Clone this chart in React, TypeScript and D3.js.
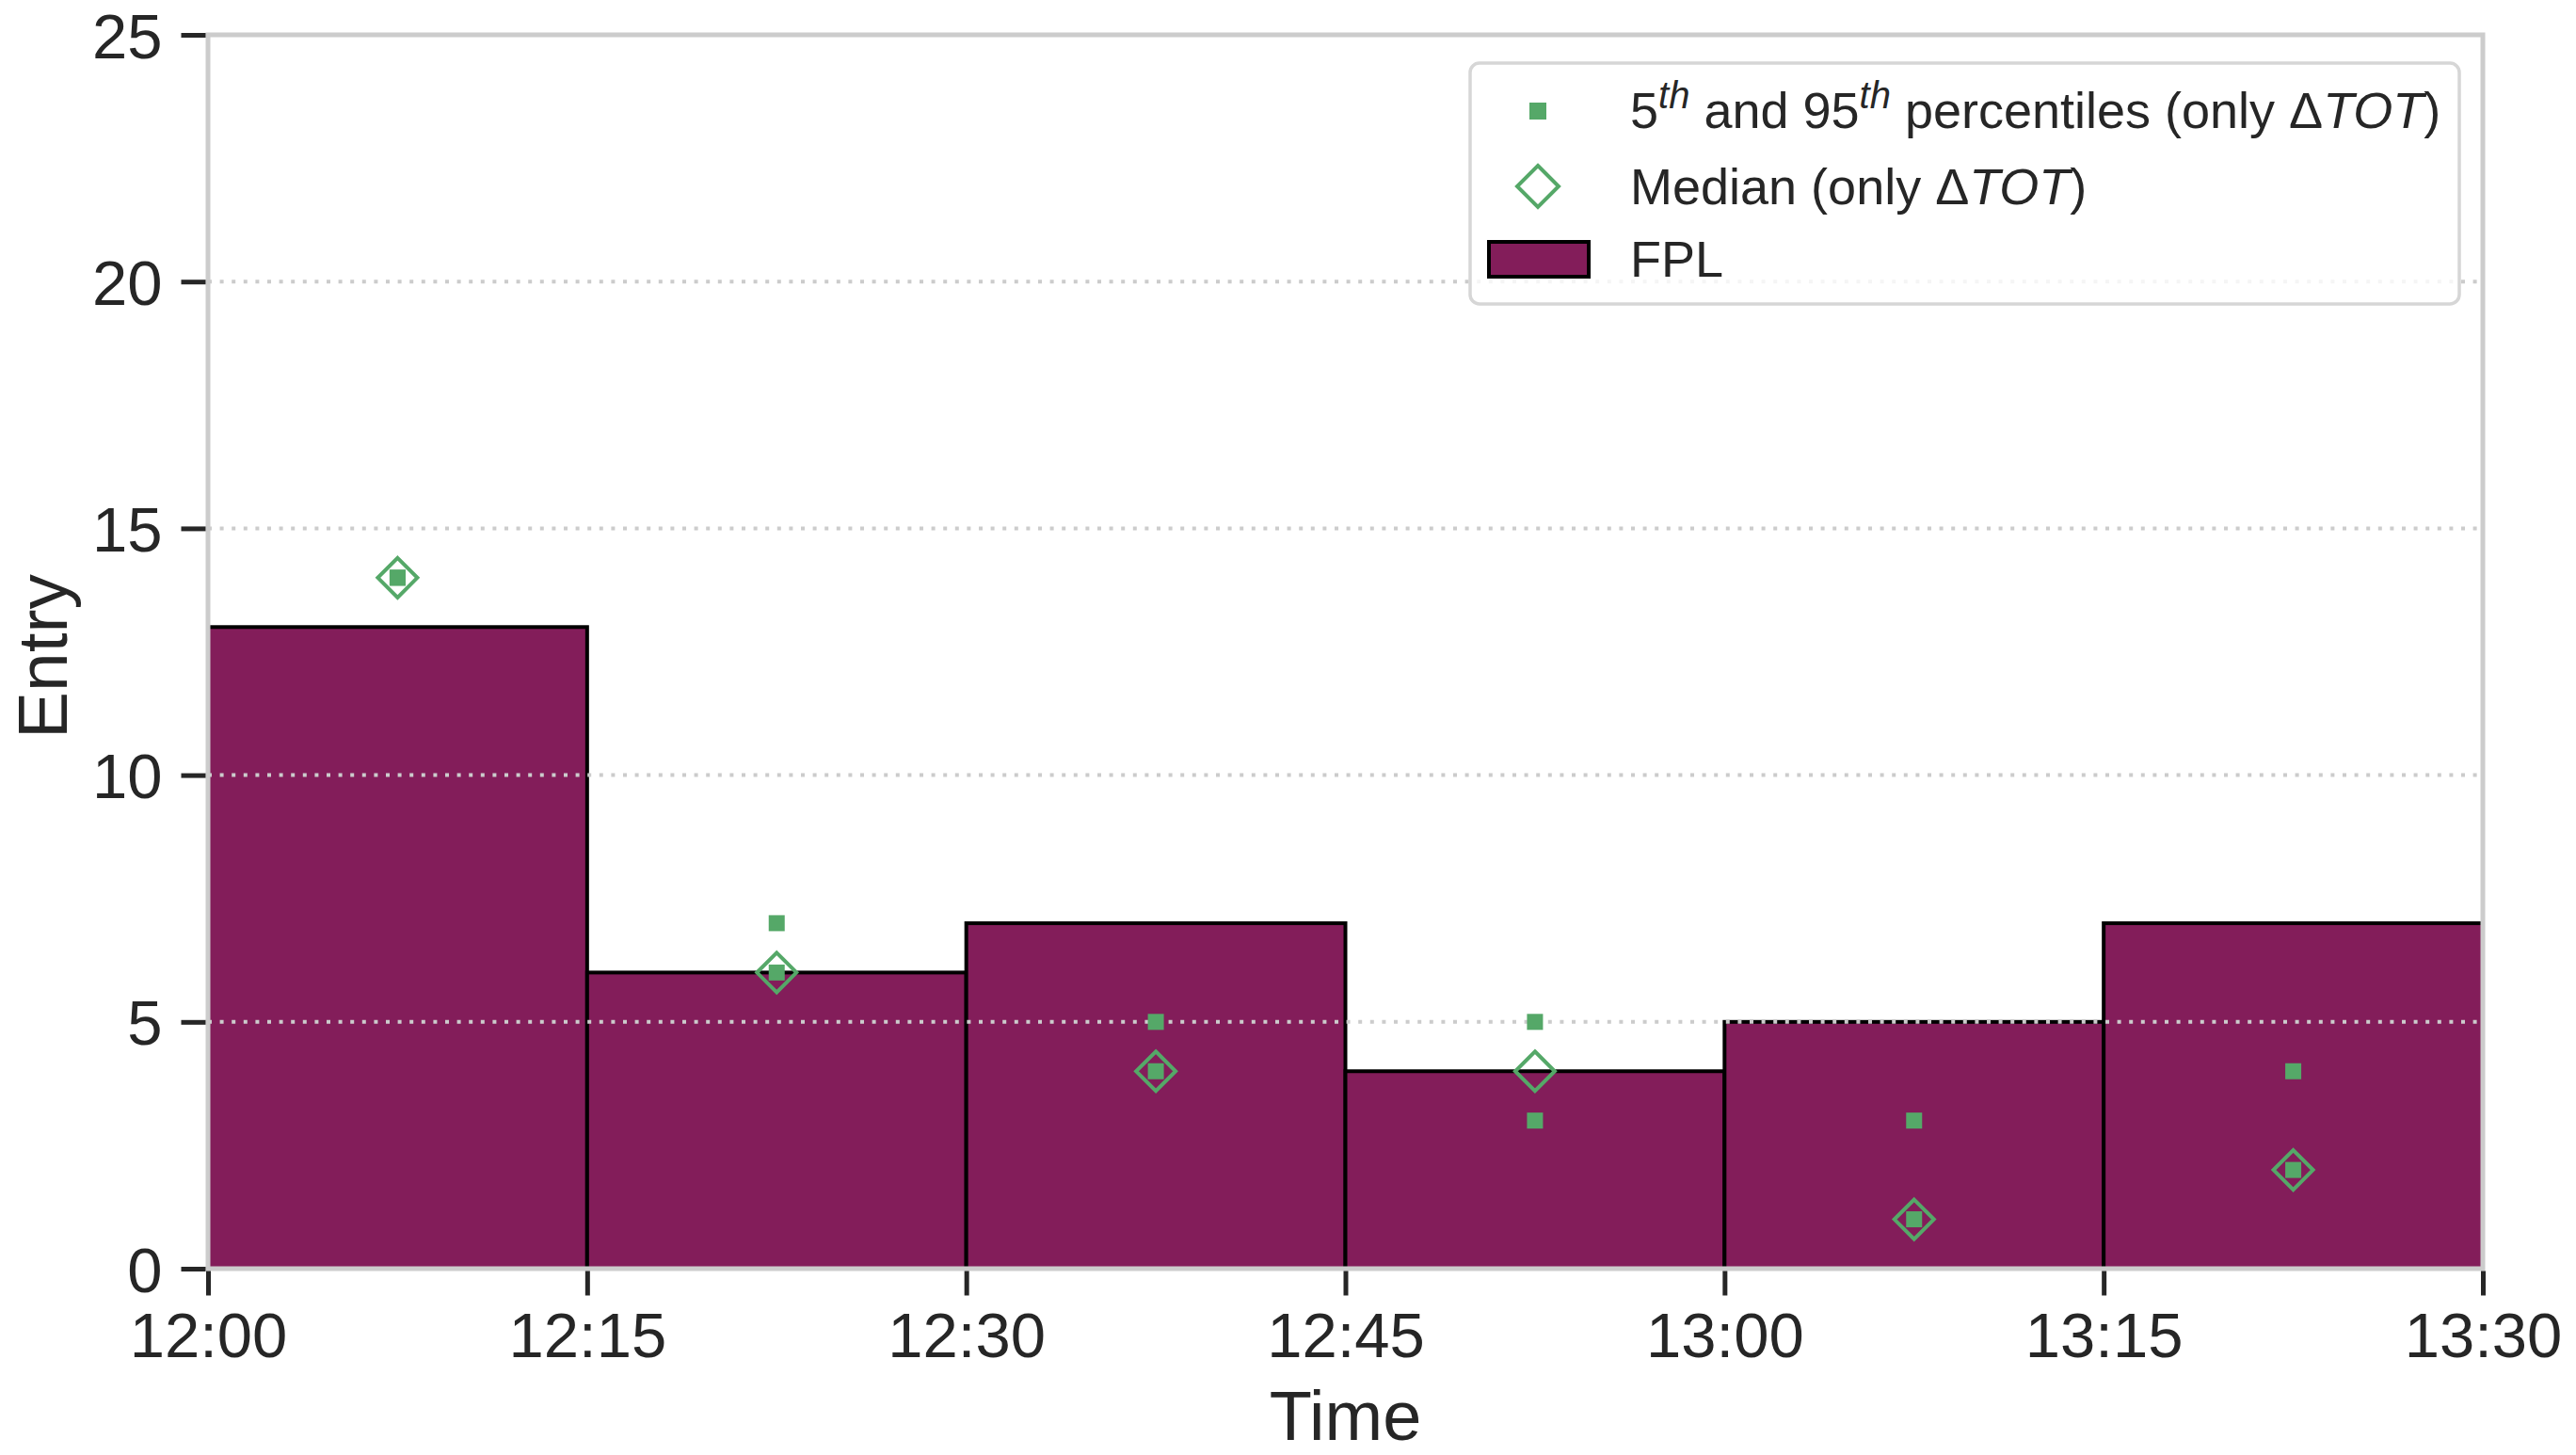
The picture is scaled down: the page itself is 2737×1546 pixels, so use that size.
import React, { useEffect, useRef } from 'react';
import * as d3 from 'd3';

// 15-minute bins starting at these times
const binStarts = ['12:00', '12:15', '12:30', '12:45', '13:00', '13:15'];
const axisEnd = '13:30';
const fplCounts = [13, 6, 7, 4, 5, 7];
const p5Values = [14, 6, 4, 3, 1, 2];
const p95Values = [14, 7, 5, 5, 3, 4];
const medianValues = [14, 6, 4, 4, 1, 2];
const yTicks = [0, 5, 10, 15, 20, 25];

const W = 2737;
const H = 1546;
const FONT = '"Liberation Sans", Arial, "DejaVu Sans", sans-serif';
const TEXT = '#262626';
const BAR = '#831d5a';
const GREEN = '#55a868';
const SPINE = '#cccccc';

const parseT = (s: string) => {
  const [h, m] = s.split(':').map(Number);
  return new Date(2020, 0, 1, h, m);
};

const App: React.FC = () => {
  const svgRef = useRef<SVGSVGElement | null>(null);

  useEffect(() => {
    if (!svgRef.current) return;
    const svg = d3.select(svgRef.current);
    svg.selectAll('*').remove();

    const left = 221, right = 2638, top = 37, bottom = 1348;

    const x = d3.scaleTime()
      .domain([parseT(binStarts[0]), parseT(axisEnd)])
      .range([left, right]);
    const y = d3.scaleLinear().domain([0, 25]).range([bottom, top]);

    const bins = binStarts.map((s, i) => {
      const start = parseT(s);
      const end = new Date(start.getTime() + 15 * 60000);
      const mid = new Date(start.getTime() + 7.5 * 60000);
      return { start, end, mid, fpl: fplCounts[i], p5: p5Values[i], p95: p95Values[i], med: medianValues[i] };
    });

    // bars
    svg.append('g')
      .selectAll('rect')
      .data(bins)
      .enter()
      .append('rect')
      .attr('x', d => x(d.start))
      .attr('y', d => y(d.fpl))
      .attr('width', d => x(d.end) - x(d.start))
      .attr('height', d => y(0) - y(d.fpl))
      .attr('fill', BAR)
      .attr('stroke', '#000')
      .attr('stroke-width', 4);

    // horizontal grid (drawn over bars)
    svg.append('g')
      .selectAll('line')
      .data(yTicks.filter(t => t > 0 && t < 25))
      .enter()
      .append('line')
      .attr('x1', left)
      .attr('x2', right)
      .attr('y1', d => y(d))
      .attr('y2', d => y(d))
      .attr('stroke', SPINE)
      .attr('stroke-width', 4)
      .attr('stroke-dasharray', '4,8.6');

    // percentile squares
    const sq = 17;
    const pts = bins.flatMap(b => [{ t: b.mid, v: b.p5 }, { t: b.mid, v: b.p95 }]);
    svg.append('g')
      .selectAll('rect')
      .data(pts)
      .enter()
      .append('rect')
      .attr('x', d => x(d.t) - sq / 2)
      .attr('y', d => y(d.v) - sq / 2)
      .attr('width', sq)
      .attr('height', sq)
      .attr('fill', GREEN);

    // median diamonds
    const dr = 21;
    const diamond = (cx: number, cy: number, r: number) =>
      `M${cx},${cy - r}L${cx + r},${cy}L${cx},${cy + r}L${cx - r},${cy}Z`;
    svg.append('g')
      .selectAll('path')
      .data(bins)
      .enter()
      .append('path')
      .attr('d', d => diamond(x(d.mid), y(d.med), dr))
      .attr('fill', 'none')
      .attr('stroke', GREEN)
      .attr('stroke-width', 4);

    // spines
    svg.append('rect')
      .attr('x', left)
      .attr('y', top)
      .attr('width', right - left)
      .attr('height', bottom - top)
      .attr('fill', 'none')
      .attr('stroke', SPINE)
      .attr('stroke-width', 5);

    // y axis
    const yAxis = svg.append('g')
      .attr('transform', `translate(${left - 2.5},0)`)
      .call(d3.axisLeft(y).tickValues(yTicks).tickSize(26).tickPadding(20).tickSizeOuter(0));
    yAxis.select('.domain').remove();
    yAxis.selectAll('line').attr('stroke', TEXT).attr('stroke-width', 5);
    yAxis.selectAll('text')
      .attr('fill', TEXT)
      .attr('dy', '0.36em')
      .style('font-family', FONT)
      .style('font-size', '67px');

    // x axis
    const xAxis = svg.append('g')
      .attr('transform', `translate(0,${bottom + 2.5})`)
      .call(d3.axisBottom(x)
        .ticks(d3.timeMinute.every(15))
        .tickFormat(d3.timeFormat('%H:%M') as any)
        .tickSize(26)
        .tickPadding(18)
        .tickSizeOuter(0));
    xAxis.select('.domain').remove();
    xAxis.selectAll('line').attr('stroke', TEXT).attr('stroke-width', 5);
    xAxis.selectAll('text')
      .attr('fill', TEXT)
      .style('font-family', FONT)
      .style('font-size', '67px');

    // axis titles
    svg.append('text')
      .attr('x', (left + right) / 2)
      .attr('y', 1530)
      .attr('text-anchor', 'middle')
      .attr('fill', TEXT)
      .style('font-family', FONT)
      .style('font-size', '74px')
      .text('Time');
    svg.append('text')
      .attr('transform', `translate(71,${(top + bottom) / 2 + 5}) rotate(-90)`)
      .attr('text-anchor', 'middle')
      .attr('fill', TEXT)
      .style('font-family', FONT)
      .style('font-size', '75px')
      .text('Entry');

    // legend
    const lg = svg.append('g');
    lg.append('rect')
      .attr('x', 1562)
      .attr('y', 67)
      .attr('width', 2613 - 1562)
      .attr('height', 323 - 67)
      .attr('rx', 10)
      .attr('fill', '#fff')
      .attr('fill-opacity', 0.8)
      .attr('stroke', '#d6d6d6')
      .attr('stroke-width', 3.5);

    const mx = 1634;
    const tx = 1732;
    const fs = 54;
    lg.append('rect')
      .attr('x', mx - 9).attr('y', 118 - 9).attr('width', 18).attr('height', 18)
      .attr('fill', GREEN);
    lg.append('path')
      .attr('d', diamond(mx, 198, 22))
      .attr('fill', 'none').attr('stroke', GREEN).attr('stroke-width', 4);
    lg.append('rect')
      .attr('x', 1582).attr('y', 257).attr('width', 106).attr('height', 37)
      .attr('fill', BAR).attr('stroke', '#000').attr('stroke-width', 4);

    const t1 = lg.append('text')
      .attr('x', tx).attr('y', 136)
      .attr('fill', TEXT)
      .style('font-family', FONT)
      .style('font-size', `${fs}px`);
    const sup = (sel: any, txt: string) => {
      sel.append('tspan').attr('dy', -21).style('font-size', `${fs * 0.74}px`).style('font-style', 'italic').text(txt);
    };
    t1.append('tspan').text('5');
    sup(t1, 'th');
    t1.append('tspan').attr('dy', 21).text(' and 95');
    sup(t1, 'th');
    t1.append('tspan').attr('dy', 21).text(' percentiles (only Δ');
    t1.append('tspan').style('font-style', 'italic').text('TOT');
    t1.append('tspan').text(')');

    const t2 = lg.append('text')
      .attr('x', tx).attr('y', 217)
      .attr('fill', TEXT)
      .style('font-family', FONT)
      .style('font-size', `${fs}px`);
    t2.append('tspan').text('Median (only Δ');
    t2.append('tspan').style('font-style', 'italic').text('TOT');
    t2.append('tspan').text(')');

    lg.append('text')
      .attr('x', tx).attr('y', 294)
      .attr('fill', TEXT)
      .style('font-family', FONT)
      .style('font-size', `${fs}px`)
      .text('FPL');
  }, []);

  return (
    <svg
      ref={svgRef}
      width={W}
      height={H}
      style={{ position: 'absolute', left: 0, top: 0, background: '#fff' }}
    />
  );
};

export default App;
